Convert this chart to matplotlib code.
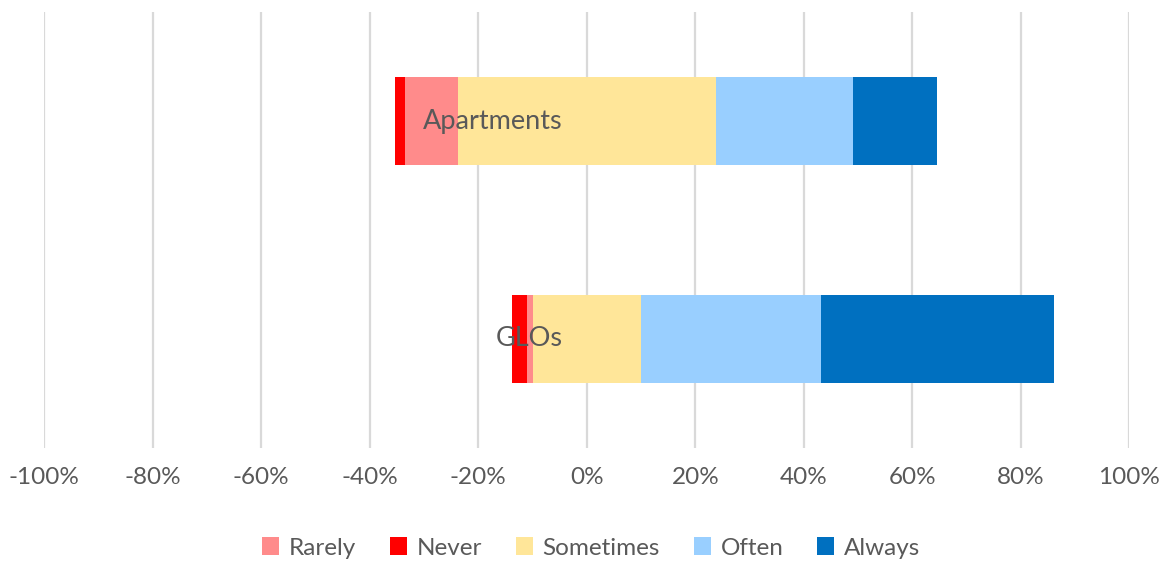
import matplotlib
matplotlib.use("Agg")
import matplotlib.pyplot as plt
from matplotlib.patches import Patch

categories = ["GLOs", "Apartments"]
never = [2.7, 1.8]
rarely = [1.0, 9.8]
sometimes = [20.0, 47.6]
often = [33.2, 25.2]
always = [43.0, 15.6]
xticks = [-100, -80, -60, -40, -20, 0, 20, 40, 60, 80, 100]
xticklabels = [f"{v}%" for v in xticks]

colors = {
    "Rarely": "#FF8B8B",
    "Never": "#FF0000",
    "Sometimes": "#FFE699",
    "Often": "#99CFFF",
    "Always": "#0070C0",
}
text_color = "#595959"
plt.rcParams['font.family'] = ['Lato', 'DejaVu Sans']

fig = plt.figure(figsize=(11.74, 5.66), dpi=100)
ax = fig.add_axes([44.3/1174, 118/566, 1085/1174, 436/566])

ypos = list(range(len(categories)))
h = 0.4
for i in ypos:
    left = -(never[i] + rarely[i] + sometimes[i] / 2)
    segs = [("Never", never[i]), ("Rarely", rarely[i]),
            ("Sometimes", sometimes[i] / 2), ("Sometimes", sometimes[i] / 2),
            ("Often", often[i]), ("Always", always[i])]
    for name, w in segs:
        ax.barh(i, w, left=left, height=h, color=colors[name], linewidth=0, zorder=3)
        left += w

ax.set_xlim(-100, 100)
ax.set_ylim(-0.5, 1.5)
ax.set_xticks(xticks)
ax.set_xticklabels(xticklabels, color=text_color, fontsize=17.5)
ax.tick_params(axis='x', length=0, pad=14)
ax.set_yticks([])
ax.grid(axis='x', color='#D9D9D9', linewidth=1.6, zorder=0)
ax.set_axisbelow(True)
for s in ax.spines.values():
    s.set_visible(False)

for i, name in enumerate(categories):
    ax.text(-4.4, i, name, ha='right', va='center', fontsize=19.5, color=text_color, zorder=5)

order = ["Rarely", "Never", "Sometimes", "Often", "Always"]
handles = [Patch(facecolor=colors[n], edgecolor='none', label=n) for n in order]
fig.legend(handles=handles, loc='center', bbox_to_anchor=(591/1174, 1 - 548/566),
           ncol=5, frameon=False, fontsize=17.5, labelcolor=text_color,
           handlelength=0.7, handleheight=0.7, handletextpad=0.4, columnspacing=1.4)

fig.savefig("out.png", dpi=100)
